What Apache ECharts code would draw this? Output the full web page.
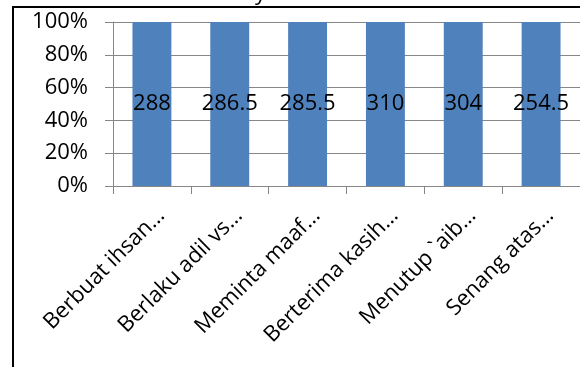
<!DOCTYPE html>
<html>
<head>
<meta charset="utf-8">
<script src="https://cdn.jsdelivr.net/npm/echarts@6/dist/echarts.min.js"></script>
<style>
  html, body { margin: 0; padding: 0; background: #fff; }
  #chart { width: 580px; height: 367px; }
</style>
</head>
<body>
<div id="chart"></div>
<script>
// Category names (shortened as in the source sheet)
const categories = [
  'Berbuat ihsan…',
  'Berlaku adil vs…',
  'Meminta maaf…',
  'Berterima kasih…',
  'Menutup `aib…',
  'Senang atas…'
];
// Score per category
const scores = [288, 286.5, 285.5, 310, 304, 254.5];
// Percentage axis ticks
const yTicks = [0, 20, 40, 60, 80, 100];

// 100% stacked column: each segment is its share of the category total
const seriesList = [scores];
const totals = categories.map((_, i) => seriesList.reduce((s, arr) => s + arr[i], 0));
const shares = scores.map((v, i) => v / totals[i] * 100);

const FONT = '"Open Sans", sans-serif';
const GREY = '#878787';

const chart = echarts.init(document.getElementById('chart'), null, { renderer: 'canvas' });
chart.setOption({
  animation: false,
  backgroundColor: '#fff',
  grid: { left: 113, right: -4, top: 22, bottom: 181, containLabel: false },
  xAxis: {
    type: 'category',
    data: categories,
    boundaryGap: true,
    axisLine: { show: true, lineStyle: { color: GREY, width: 1 } },
    axisTick: { show: true, length: 8, lineStyle: { color: GREY, width: 1 } },
    splitLine: { show: false },
    axisLabel: {
      interval: 0,
      rotate: 45,
      margin: 17,
      verticalAlign: 'top',
      lineHeight: 26,
      color: '#000',
      fontFamily: FONT,
      fontSize: 22
    }
  },
  yAxis: {
    type: 'value',
    min: yTicks[0],
    max: yTicks[yTicks.length - 1],
    interval: yTicks[1] - yTicks[0],
    axisLine: { show: true, lineStyle: { color: GREY, width: 1 } },
    axisTick: { show: true, length: 8, lineStyle: { color: GREY, width: 1 } },
    splitLine: { show: true, lineStyle: { color: GREY, width: 1 } },
    axisLabel: {
      formatter: '{value}%',
      margin: 25,
      color: '#000',
      fontFamily: FONT,
      fontSize: 22
    }
  },
  series: [{
    type: 'bar',
    stack: 'total',
    data: shares,
    barWidth: '50%',
    itemStyle: { color: '#4F81BD' },
    label: {
      show: true,
      position: 'inside',
      formatter: p => String(scores[p.dataIndex]),
      color: '#000',
      fontFamily: FONT,
      fontSize: 22,
      textBorderWidth: 0
    }
  }],
  graphic: [
    {
      type: 'rect',
      z: 100,
      shape: { x: 13, y: 7, width: 620, height: 420 },
      style: { fill: 'none', stroke: '#000', lineWidth: 2 }
    },
    {
      type: 'text',
      z: 100,
      style: { text: 'y', x: 255, y: 5, fill: '#000', font: '22px "Open Sans", sans-serif', verticalAlign: 'bottom' }
    }
  ]
});
</script>
</body>
</html>
